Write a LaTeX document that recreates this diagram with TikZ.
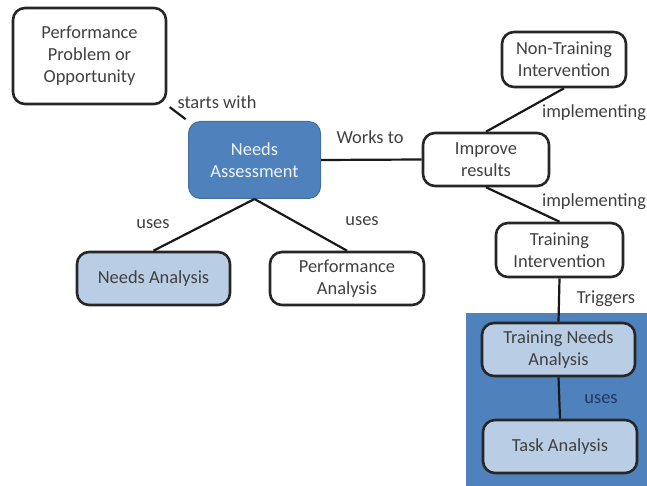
\documentclass[tikz,border=0pt]{standalone}
\usepackage{fontspec}
\setmainfont{Carlito}
\definecolor{accent}{HTML}{4F81BD}
\definecolor{accentdark}{HTML}{41719C}
\definecolor{lightaccent}{HTML}{B9CDE5}
\definecolor{ink}{HTML}{404040}
\definecolor{navyink}{HTML}{1F3864}
\begin{document}
\begin{tikzpicture}[x=1pt,y=-1pt,
  every node/.style={font=\fontsize{18.4}{22}\selectfont, text=ink},
  box/.style={draw=black!85, line width=2.6pt, rounded corners=12pt, fill=white,
    align=center, inner sep=2pt},
  lightbox/.style={box, fill=lightaccent},
  darkbox/.style={draw=accentdark, line width=1pt, rounded corners=12pt, fill=accent,
    align=center, text=white!92!accent},
  link/.style={draw=black!90, line width=2.2pt},
  lbl/.style={inner sep=1pt}]
  \useasboundingbox (0,0) rectangle (647,486);

  % shaded panel behind the training-needs part
  \fill[accent] (466,313) rectangle (647,486);

  % concept boxes
  \node[box, minimum width=153pt, minimum height=96pt] (ppo) at (89.5,56)
    {Performance\\Problem or\\Opportunity};
  \node[darkbox, minimum width=132pt, minimum height=77pt] (nas) at (254.5,160)
    {Needs\\Assessment};
  \node[lightbox, minimum width=153pt, minimum height=53pt] (nan) at (153.5,278.5)
    {Needs Analysis};
  \node[box, minimum width=154pt, minimum height=53pt] (pan) at (347,278.5)
    {Performance\\Analysis};
  \node[box, minimum width=126pt, minimum height=53pt] (imp) at (486,159.5)
    {Improve\\results};
  \node[box, minimum width=124pt, minimum height=55pt] (ntr) at (564,59.5)
    {Non-Training\\Intervention};
  \node[box, minimum width=127pt, minimum height=54pt] (tri) at (559.5,250)
    {Training\\Intervention};
  \node[lightbox, minimum width=153pt, minimum height=53pt] (tna) at (558.5,349.5)
    {Training Needs\\Analysis};
  \node[lightbox, minimum width=154pt, minimum height=53pt] (tsk) at (560,446.5)
    {Task Analysis};

  % connectors
  \draw[link, shorten <=3pt, shorten >=3pt] (ppo.south east) -- (nas.north west);
  \draw[link] (nas.east) -- (imp.west);
  \draw[link] (nas.south) -- (nan.north);
  \draw[link] (nas.south) -- (pan.north);
  \draw[link] (imp.north) -- (ntr.south);
  \draw[link] (imp.south) -- (tri.north);
  \draw[link] (tri.south) -- (tna.north);
  \draw[link] (tna.south) -- (tsk.north);

  % connector labels
  \node[lbl] (l1) at (217,102) {starts with};
  \node[lbl] (l2) at (370,137) {Works to};
  \node[lbl] (l3) at (153,224) {uses};
  \node[lbl] (l4) at (362,221) {uses};
  \node[lbl] (l5) at (594,113) {implementing};
  \node[lbl] (l6) at (594,202) {implementing};
  \node[lbl] (l7) at (606,299) {Triggers};
  \node[lbl, text=navyink] (l8) at (601,399) {uses};
\end{tikzpicture}
\end{document}
